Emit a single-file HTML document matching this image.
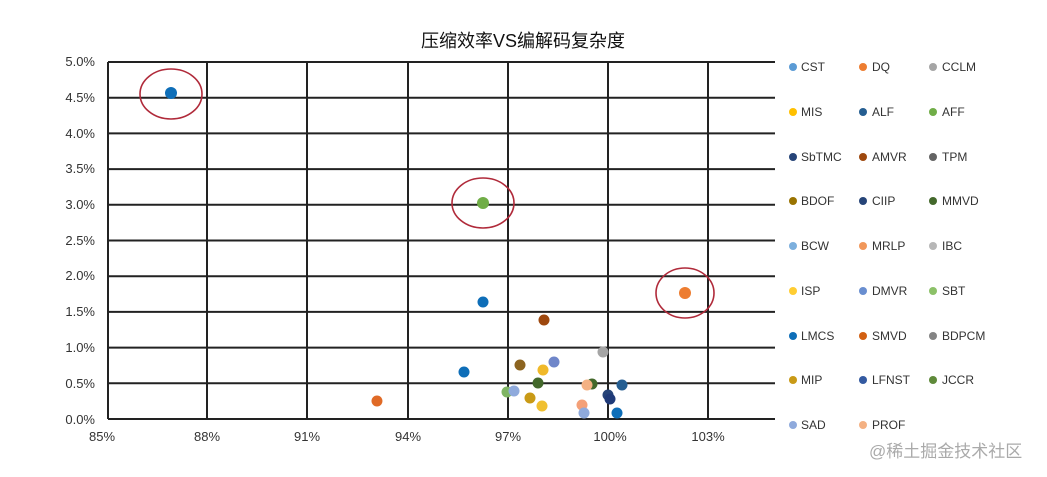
<!DOCTYPE html>
<html><head><meta charset="utf-8"><style>
html,body{margin:0;padding:0;background:#fff;width:1047px;height:477px;overflow:hidden}
svg text{font-family:"Liberation Sans","Noto Sans CJK SC",sans-serif}
</style></head><body>
<svg width="1047" height="477" xmlns="http://www.w3.org/2000/svg">
<text x="523" y="47" font-size="18" text-anchor="middle" fill="#111">压缩效率VS编解码复杂度</text>
<g stroke="#222" stroke-width="2">
<line x1="108" y1="62" x2="775" y2="62"/>
<line x1="108" y1="97.7" x2="775" y2="97.7"/>
<line x1="108" y1="133.4" x2="775" y2="133.4"/>
<line x1="108" y1="169.1" x2="775" y2="169.1"/>
<line x1="108" y1="204.8" x2="775" y2="204.8"/>
<line x1="108" y1="240.5" x2="775" y2="240.5"/>
<line x1="108" y1="276.2" x2="775" y2="276.2"/>
<line x1="108" y1="311.9" x2="775" y2="311.9"/>
<line x1="108" y1="347.6" x2="775" y2="347.6"/>
<line x1="108" y1="383.3" x2="775" y2="383.3"/>
<line x1="108" y1="419" x2="775" y2="419"/>
<line x1="108" y1="62" x2="108" y2="419"/>
<line x1="207" y1="62" x2="207" y2="419"/>
<line x1="307" y1="62" x2="307" y2="419"/>
<line x1="408" y1="62" x2="408" y2="419"/>
<line x1="508" y1="62" x2="508" y2="419"/>
<line x1="608" y1="62" x2="608" y2="419"/>
<line x1="708" y1="62" x2="708" y2="419"/>
</g>
<g font-size="13" fill="#333" text-anchor="end">
<text x="95" y="66">5.0%</text><text x="95" y="102">4.5%</text><text x="95" y="138">4.0%</text>
<text x="95" y="173">3.5%</text><text x="95" y="209">3.0%</text><text x="95" y="245">2.5%</text>
<text x="95" y="280">2.0%</text><text x="95" y="316">1.5%</text><text x="95" y="352">1.0%</text>
<text x="95" y="388">0.5%</text><text x="95" y="424">0.0%</text>
</g>
<g font-size="13" fill="#333" text-anchor="middle">
<text x="102" y="441">85%</text><text x="207" y="441">88%</text><text x="307" y="441">91%</text>
<text x="408" y="441">94%</text><text x="508" y="441">97%</text><text x="610" y="441">100%</text><text x="708" y="441">103%</text>
</g>
<g>
<circle cx="171" cy="93" r="6" fill="#0e6eb8"/>
<circle cx="483" cy="203" r="6" fill="#70ad47"/>
<circle cx="685" cy="293" r="6" fill="#ed7d31"/>
<circle cx="483" cy="302" r="5.5" fill="#0e6eb8"/>
<circle cx="544" cy="320" r="5.5" fill="#9e480e"/>
<circle cx="603" cy="352" r="5.5" fill="#a5a5a5"/>
<circle cx="554" cy="362" r="5.5" fill="#6f86c9"/>
<circle cx="520" cy="365" r="5.5" fill="#8c6420"/>
<circle cx="543" cy="370" r="5.5" fill="#f0b92a"/>
<circle cx="464" cy="372" r="5.5" fill="#0e6eb8"/>
<circle cx="538" cy="383" r="5.5" fill="#43682b"/>
<circle cx="592" cy="384" r="5.5" fill="#43682b"/>
<circle cx="587" cy="385" r="5.5" fill="#f4b183"/>
<circle cx="622" cy="385" r="5.5" fill="#255e91"/>
<circle cx="507" cy="392" r="5.5" fill="#7fb563"/>
<circle cx="514" cy="391" r="5.5" fill="#8faadc"/>
<circle cx="608" cy="395" r="5.5" fill="#264478"/>
<circle cx="610" cy="399" r="5.5" fill="#1f3a78"/>
<circle cx="530" cy="398" r="5.5" fill="#c99a16"/>
<circle cx="542" cy="406" r="5.5" fill="#f0c030"/>
<circle cx="582" cy="405" r="5.5" fill="#f4a078"/>
<circle cx="584" cy="413" r="5.5" fill="#8faadc"/>
<circle cx="617" cy="413" r="5.5" fill="#0e6eb8"/>
<circle cx="377" cy="401" r="5.5" fill="#e06a26"/>
</g>
<g fill="none" stroke="#b02a3a" stroke-width="1.6">
<ellipse cx="171" cy="94" rx="31" ry="25"/>
<ellipse cx="483" cy="203" rx="31" ry="25"/>
<ellipse cx="685" cy="293" rx="29" ry="25"/>
</g>
<g font-size="12" fill="#333">
<circle cx="793" cy="67" r="4" fill="#5b9bd5"/><text x="801" y="71">CST</text>
<circle cx="863" cy="67" r="4" fill="#ed7d31"/><text x="872" y="71">DQ</text>
<circle cx="933" cy="67" r="4" fill="#a5a5a5"/><text x="942" y="71">CCLM</text>
<circle cx="793" cy="112" r="4" fill="#ffc000"/><text x="801" y="116">MIS</text>
<circle cx="863" cy="112" r="4" fill="#255e91"/><text x="872" y="116">ALF</text>
<circle cx="933" cy="112" r="4" fill="#70ad47"/><text x="942" y="116">AFF</text>
<circle cx="793" cy="157" r="4" fill="#264478"/><text x="801" y="161">SbTMC</text>
<circle cx="863" cy="157" r="4" fill="#9e480e"/><text x="872" y="161">AMVR</text>
<circle cx="933" cy="157" r="4" fill="#636363"/><text x="942" y="161">TPM</text>
<circle cx="793" cy="201" r="4" fill="#997300"/><text x="801" y="205">BDOF</text>
<circle cx="863" cy="201" r="4" fill="#264478"/><text x="872" y="205">CIIP</text>
<circle cx="933" cy="201" r="4" fill="#43682b"/><text x="942" y="205">MMVD</text>
<circle cx="793" cy="246" r="4" fill="#7cafdd"/><text x="801" y="250">BCW</text>
<circle cx="863" cy="246" r="4" fill="#f1975a"/><text x="872" y="250">MRLP</text>
<circle cx="933" cy="246" r="4" fill="#b7b7b7"/><text x="942" y="250">IBC</text>
<circle cx="793" cy="291" r="4" fill="#ffcd33"/><text x="801" y="295">ISP</text>
<circle cx="863" cy="291" r="4" fill="#698ed0"/><text x="872" y="295">DMVR</text>
<circle cx="933" cy="291" r="4" fill="#8cc168"/><text x="942" y="295">SBT</text>
<circle cx="793" cy="336" r="4" fill="#0e6eb8"/><text x="801" y="340">LMCS</text>
<circle cx="863" cy="336" r="4" fill="#d26012"/><text x="872" y="340">SMVD</text>
<circle cx="933" cy="336" r="4" fill="#848484"/><text x="942" y="340">BDPCM</text>
<circle cx="793" cy="380" r="4" fill="#c99a16"/><text x="801" y="384">MIP</text>
<circle cx="863" cy="380" r="4" fill="#335aa1"/><text x="872" y="384">LFNST</text>
<circle cx="933" cy="380" r="4" fill="#5f8a3a"/><text x="942" y="384">JCCR</text>
<circle cx="793" cy="425" r="4" fill="#8faadc"/><text x="801" y="429">SAD</text>
<circle cx="863" cy="425" r="4" fill="#f4b183"/><text x="872" y="429">PROF</text>
</g>
<text x="869" y="457" font-size="17" fill="#aaa">@稀土掘金技术社区</text>
</svg>
</body></html>
